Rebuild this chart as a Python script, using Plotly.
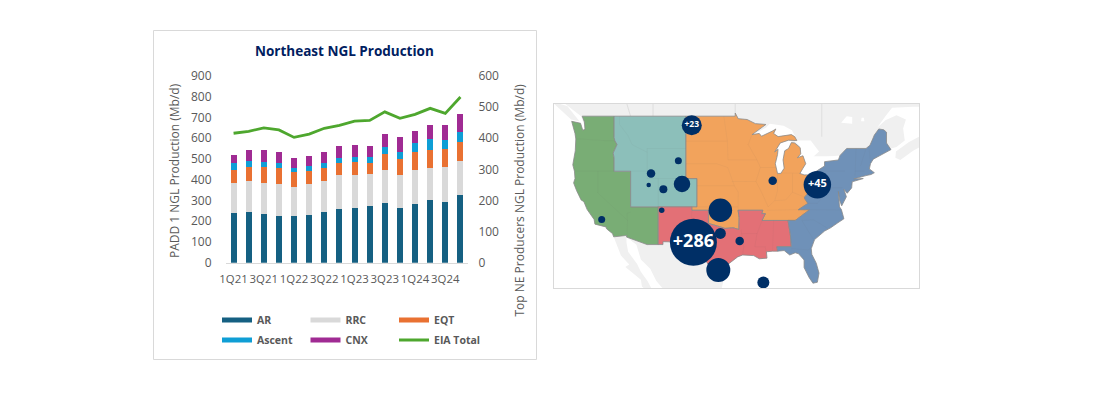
import math
import plotly.graph_objects as go

# ---- chart data ----
quarters = ["1Q21","2Q21","3Q21","4Q21","1Q22","2Q22","3Q22","4Q22",
            "1Q23","2Q23","3Q23","4Q23","1Q24","2Q24","3Q24","4Q24"]
ar =     [160,163,157,150,150,153,163,173,176,182,192,176,189,202,195,217]
rrc =    [96,99,99,103,93,99,99,109,106,103,106,106,109,103,112,109]
eqt =    [42,45,51,52,48,42,42,39,42,35,51,51,58,57,58,61]
ascent = [23,19,17,16,13,16,16,16,16,19,23,23,29,35,29,32]
cnx =    [25,35,38,35,32,32,35,39,39,35,41,48,39,45,48,58]
eia_total = [624,633,650,640,604,620,648,662,682,686,727,696,715,744,720,799]

# ---- map data (lon, lat) ----
west = [(-122.8,49),(-117.03,49),(-117.03,46.4),(-116.9,46),(-116.5,45.5),(-117.2,44.4),(-117.03,43.8),(-117.03,42),
        (-114.04,42),(-114.04,37),(-109.05,37),(-109.05,31.33),(-111.07,31.33),(-114.8,32.5),(-114.72,32.72),(-117.12,32.53),
        (-117.3,33.0),(-118.4,33.75),(-118.5,34.03),(-119.2,34.15),(-120.5,34.45),(-120.65,35.15),(-121.9,36.6),(-122.5,37.75),
        (-123.0,38.0),(-123.8,39.3),(-124.35,40.4),(-124.1,41.0),(-124.2,42.0),(-124.5,42.85),(-124.05,44.7),(-123.95,46.2),
        (-124.1,46.9),(-124.7,48.38),(-123.1,48.15),(-122.7,47.3),(-122.3,47.4),(-122.4,48.3)]
rockies = [(-117.03,49),(-104.05,49),(-104.05,41),(-102.05,41),(-102.05,37),(-109.05,37),(-114.04,37),(-114.04,42),
           (-117.03,42),(-117.03,43.8),(-117.2,44.4),(-116.5,45.5),(-116.9,46),(-117.03,46.4)]
midwest = [(-104.05,49),(-95.15,49),(-95.15,49.38),(-94.6,48.7),(-93,48.6),(-91.5,48.1),(-89.6,48.0),(-92.1,46.75),
           (-90.8,46.9),(-90.4,46.55),(-88.4,47.2),(-87.8,47.45),(-88.2,46.9),(-87.4,46.5),(-85,46.75),(-84.4,46.5),(-84,46),
           (-85.5,46.05),(-87,45.7),(-87.6,45.1),(-88,44.55),(-87.4,44.9),(-87.5,44.2),(-87.9,43),(-87.5,41.7),(-86.9,41.7),
           (-86.3,42.4),(-86.5,43.5),(-86.2,44.7),(-85.5,45),(-85,45.75),(-84.4,45.7),(-83.4,45.1),(-83.3,44.3),(-83.9,43.8),
           (-82.9,44.05),(-82.4,43),(-82.9,42.4),(-83.2,42),(-83.45,41.7),(-82.7,41.5),(-81.7,41.5),(-80.52,41.98),
           (-80.52,40.64),(-80.9,39.7),(-81.7,39.2),(-82.6,38.4),(-82.6,38.2),(-82,37.5),(-83.7,36.6),(-81.68,36.59),
           (-84.3,35),(-90.3,35),(-89.7,36),(-90.37,36),(-90.15,36.5),(-94.62,36.5),(-94.43,35.4),(-94.48,33.64),(-95.5,33.9),
           (-97,33.8),(-98,34.1),(-100,34.56),(-100,36.5),(-103,36.5),(-103,37),(-102.05,37),(-102.05,41),(-104.05,41)]
gulf = [(-109.05,37),(-103,37),(-103,36.5),(-100,36.5),(-100,34.56),(-98,34.1),(-97,33.8),(-95.5,33.9),(-94.48,33.64),
        (-94.43,35.4),(-94.62,36.5),(-90.15,36.5),(-90.37,36),(-89.7,36),(-90.3,35),(-84.3,35),(-85.6,35),(-85.18,32.9),(-85,31),
        (-87.6,31),(-87.5,30.3),(-88.4,30.3),(-89.5,30.2),(-89.4,29.2),(-90.8,29.1),(-91.8,29.6),(-93.8,29.7),(-94.7,29.4),
        (-95.9,28.6),(-97.2,27.7),(-97.4,26.8),(-97.15,25.95),(-99.1,26.4),(-99.5,27.5),(-100.7,29.1),(-101.4,29.77),
        (-102.7,29.7),(-103.15,28.98),(-104.5,29.6),(-106.5,31.75),(-108.2,31.78),(-108.2,31.33),(-109.05,31.33)]
east = [(-80.52,41.98),(-79,42.7),(-79,43.27),(-76.5,43.5),(-76.2,44.1),(-75,45),(-71.5,45),(-70.8,45.4),(-70.3,46.2),(-70,46.7),
        (-69.2,47.45),(-68.3,47.35),(-67.8,47.05),(-67.8,45.7),(-67,44.85),(-68.5,44.3),(-70.2,43.6),(-70.7,43),(-70.9,42.3),
        (-70,41.8),(-70.6,41.55),(-71.5,41.4),(-73.7,40.95),(-72,41.0),(-74,40.55),(-74.1,39.7),(-74.9,38.95),(-75.5,39.5),
        (-75.05,38.45),(-75.9,37.15),(-76.3,38),(-76.5,39.2),(-76.3,37),(-75.95,36.6),(-75.5,35.25),(-76.6,34.65),(-77.9,33.9),
        (-79,33.4),(-80.8,32.1),(-81.4,30.7),(-81.3,29.8),(-80.5,28.4),(-80,26.8),(-80.3,25.3),(-81.1,25.15),(-81.8,26.1),
        (-82.7,27.7),(-82.7,28.9),(-83.7,29.9),(-84.3,30.05),(-85.3,29.7),(-86.3,30.4),(-87.5,30.3),(-87.6,31),(-85,31),
        (-85.18,32.9),(-85.6,35),(-84.3,35),(-81.68,36.59),(-83.7,36.6),(-82,37.5),(-82.6,38.2),(-82.6,38.4),(-81.7,39.2),
        (-80.9,39.7),(-80.52,40.64)]
canada = [(-127,51),(-125,50.0),(-123,49),(-122,47),(-90,44),(-72,44),(-67,45),(-66,45.2),(-64.5,46),(-64.8,47.5),(-64.3,48.6),
          (-66,49.1),(-68,48.5),(-69.5,47.6),(-68,49),(-66.8,50),(-63,50.1),(-60,50.1),(-60,52)]
vancouver_island = [(-128.3,50.7),(-125.5,50.2),(-123.3,48.4),(-124.8,48.6)]
nova_scotia = [(-66.2,43.8),(-65.3,43.5),(-63,44.7),(-61.5,45.3),(-61.5,46.6),(-60.5,47),(-63.8,45.8),(-64.5,45.4),(-66.1,44.6)]
mexico = [(-114.8,32.5),(-113,31.3),(-112.2,29),(-110.5,27.5),(-109.4,25.5),(-107.5,23.5),(-97.8,23.5),(-97.15,25.95),(-100,31),(-110,33)]
baja = [(-117.12,32.53),(-116.3,30.5),(-115.8,29.6),(-114.3,28.2),(-115,27.8),(-113.5,26.7),(-112.2,25.7),(-112,24.6),(-110,23),
        (-109.5,23.2),(-110.3,24.3),(-111,25.5),(-112.2,27),(-112.9,28.3),(-114.5,30.2),(-114.8,31.7),(-114.8,32.5)]
lakes = [
    [(-92.1,46.7),(-89.6,47.6),(-88.9,48.1),(-86.4,47.85),(-84.9,47.3),(-84.3,46.5),(-87,46.3),(-90,46.4)],
    [(-88,44.5),(-87.5,41.6),(-86.5,41.7),(-86,44.5),(-84.8,45.8),(-85.5,46.1),(-87.2,45.6)],
    [(-84.5,46),(-81.5,46),(-80,44.6),(-81.7,43.5),(-82.4,43),(-83.5,43.5),(-83.5,45.3)],
    [(-83.4,41.7),(-83.1,42.1),(-82,42.55),(-80.5,42.7),(-79,42.9),(-78.9,42.7),(-80.5,41.9),(-82,41.3)],
    [(-79.7,43.3),(-79,43.9),(-76.3,44.1),(-76.2,43.4),(-79,43.2)],
    [(-76,48.2),(-74,48.1),(-74,48.9),(-75,49)],
    [(-72.4,48.4),(-71.8,48.4),(-71.9,48.8),(-72.3,48.8)],
]
state_lines = [
    [(-124,46.2),(-123,46.2),(-119,46),(-116.9,46)],[(-124.2,42),(-117.03,42)],[(-120,42),(-120,39),(-114.6,35),(-114.7,32.7)],
    [(-114.04,36.2),(-114.7,36.1),(-114.6,35)],[(-111.05,45),(-104.05,45)],
    [(-116.05,49),(-116.05,48),(-114.5,46.6),(-113.8,45.5),(-111.05,44.5)],[(-111.05,45),(-111.05,41),(-109.05,41)],
    [(-109.05,41),(-104.05,41)],[(-109.05,41),(-109.05,37)],[(-114.04,42),(-111.05,42)],
    [(-104.05,45.94),(-96.56,45.94)],[(-104.05,43),(-98.5,43),(-96.5,42.5)],[(-102.05,40),(-95.3,40)],[(-102,37),(-94.62,37)],
    [(-97.2,49),(-96.56,45.9),(-96.45,43.5)],[(-96.45,43.5),(-91.2,43.5)],[(-95.77,40.58),(-91.4,40.6)],
    [(-96.5,42.5),(-95.3,40),(-94.6,39.1),(-94.62,36.5)],[(-92.1,46.75),(-92.8,45.5),(-91.2,43.5),(-90.6,42.5),(-91.4,40.6),(-90.2,38.8),(-89.2,37)],
    [(-90.6,42.5),(-87.8,42.5)],[(-87.5,41.7),(-87.5,39.3),(-88,37.9)],[(-84.8,41.7),(-84.8,39.1)],[(-87,41.76),(-83.45,41.73)],
    [(-89.2,37),(-88,37.9),(-86,38),(-84.8,39.1),(-82.6,38.4)],[(-89.4,36.5),(-83.7,36.6)],
    [(-103,36.5),(-103.05,32),(-106.6,32)],[(-94,33),(-91.2,33)],[(-94.05,33.6),(-94,33),(-93.6,31),(-93.8,29.7)],
    [(-90.3,35),(-91.2,33),(-91.6,31),(-89.7,31),(-89.6,30.2)],[(-88.2,35),(-88.4,30.3)],
    [(-79.76,42),(-75.3,42)],[(-80.52,39.72),(-75.8,39.72)],[(-81.68,36.59),(-75.9,36.55)],[(-83.1,35),(-81,35.1),(-78.6,33.9)],
    [(-83.1,35),(-81,32.1)],[(-85,30.7),(-82,30.5),(-81.5,30.7)],[(-73.3,45),(-73.5,41.3)],[(-71.5,45),(-72.5,42.7)],
    [(-73.5,42),(-71.8,42)],[(-71,45.3),(-70.7,43.1)],[(-82,37.5),(-80.3,37.5),(-78.3,39.4)],
]
province_lines = [[(-114.06,49),(-114.8,50.6)],[(-110,49),(-110,50.6)],[(-95.15,49.4),(-95.15,50.6)],[(-79.5,46.5),(-79.5,50.6)]]
bubble_lon = [-102.7,-98.2,-90.06,-97.83,-97.83,-94.34,-88.37,-104.76,-108.13,-110.78,-110.36,-105.42,-108.43,-119.28,-103.0,-80.3]
bubble_lat = [31.7,27.3,25.25,36.5,33.05,31.9,40.7,40.25,39.5,40.1,41.7,43.4,36.5,35.15,47.9,40.15]
bubble_size = [47,24,12,23.5,11,8.5,8.5,16.5,8,4.5,8.5,7,5.5,7,20,27.5]
bubble_label = ["+286","","","","","","","","","","","","","","+23","+45"]


def merc(lat):
    return math.degrees(math.log(math.tan(math.radians(45 + lat / 2))))


def xy(poly, close=True):
    pts = poly + poly[:1] if close else poly
    return [p[0] for p in pts], [merc(p[1]) for p in pts]


def lines_xy(lines):
    xs, ys = [], []
    for ln in lines:
        a, b = xy(ln, close=False)
        xs += a + [None]
        ys += b + [None]
    return xs, ys


# page has an 8px body margin, so the figure fills 1079x399 inside it
W, H, OFF = 1079, 399, 8
def px(x): return (x - OFF) / W
def py(y): return 1 - (y - OFF) / H

TICK = "#595959"
FONT = "Open Sans"
fig = go.Figure()

# ---- stacked bars, right axis ----
for name, vals, col in [("AR", ar, "#156082"), ("RRC", rrc, "#D9D9D9"), ("EQT", eqt, "#E97132"),
                        ("Ascent", ascent, "#0F9ED5"), ("CNX", cnx, "#A02B93")]:
    fig.add_trace(go.Bar(x=quarters, y=vals, name=name, marker_color=col, marker_line_width=0,
                         yaxis="y2", xaxis="x", width=0.4, showlegend=False, hovertemplate="%{x}: %{y}<extra>"+name+"</extra>"))
# legend swatches for the bars
for name, col, lg in [("AR", "#156082", "legend"), ("RRC", "#D9D9D9", "legend"), ("EQT", "#E97132", "legend"),
                      ("Ascent", "#0F9ED5", "legend2"), ("CNX", "#A02B93", "legend2")]:
    fig.add_trace(go.Scatter(x=[None], y=[None], name=name, mode="lines", line=dict(color=col, width=5),
                             legend=lg, xaxis="x", yaxis="y", hoverinfo="skip"))
fig.add_trace(go.Scatter(x=quarters, y=eia_total, name="EIA Total", mode="lines", xaxis="x", yaxis="y",
                         line=dict(color="#4EA72E", width=2.8), legend="legend2"))

# ---- map ----
LAND = "#F0F0F0"
for poly in [canada, vancouver_island, nova_scotia, mexico, baja]:
    x, y = xy(poly)
    fig.add_trace(go.Scatter(x=x, y=y, fill="toself", fillcolor=LAND, mode="lines", line=dict(width=0, color=LAND),
                             xaxis="x3", yaxis="y3", showlegend=False, hoverinfo="skip"))
for poly in lakes:
    x, y = xy(poly)
    fig.add_trace(go.Scatter(x=x, y=y, fill="toself", fillcolor="white", mode="lines", line=dict(width=0, color="white"),
                             xaxis="x3", yaxis="y3", showlegend=False, hoverinfo="skip"))
x, y = lines_xy(province_lines)
fig.add_trace(go.Scatter(x=x, y=y, mode="lines", line=dict(width=0.7, color="#D6D6D6"), xaxis="x3", yaxis="y3",
                         showlegend=False, hoverinfo="skip"))
for name, poly, col in [("PADD 5", west, "#79AD75"), ("PADD 4", rockies, "#8CBFBA"), ("PADD 2", midwest, "#F2A35C"),
                        ("PADD 3", gulf, "#E37076"), ("PADD 1", east, "#6F91B8")]:
    x, y = xy(poly)
    fig.add_trace(go.Scatter(x=x, y=y, fill="toself", fillcolor=col, mode="lines", name=name,
                             line=dict(width=0.8, color="#8A8A8A"), xaxis="x3", yaxis="y3", showlegend=False, hoverinfo="name"))
x, y = lines_xy(state_lines)
fig.add_trace(go.Scatter(x=x, y=y, mode="lines", line=dict(width=0.5, color="rgba(90,90,90,0.10)"), xaxis="x3", yaxis="y3",
                         showlegend=False, hoverinfo="skip"))
fig.add_trace(go.Scatter(x=bubble_lon, y=[merc(v) for v in bubble_lat], mode="markers+text", text=bubble_label,
                         textposition="middle center", xaxis="x3", yaxis="y3", showlegend=False,
                         textfont=dict(color="white", family=FONT, size=[18 if t == "+286" else 11 if t == "+45" else 8.5 for t in bubble_label], weight="bold"),
                         marker=dict(color="#002F66", size=bubble_size, line_width=0, opacity=1), hoverinfo="skip"))

tf = dict(family=FONT, size=12, color=TICK)
legend_common = dict(orientation="h", xanchor="left", yanchor="middle", entrywidth=43.5, entrywidthmode="pixels",
                     font=dict(family=FONT, size=10.5, color=TICK, weight="bold"), bgcolor="rgba(0,0,0,0)",
                     itemclick=False, itemdoubleclick=False, traceorder="normal")
center = dict(xref="paper", yref="paper", showarrow=False, xanchor="center", yanchor="middle")
fig.update_layout(
    width=W, height=H, margin=dict(l=0, r=0, t=0, b=0, autoexpand=False), paper_bgcolor="white", plot_bgcolor="rgba(0,0,0,0)",
    barmode="stack", hovermode="closest",
    xaxis=dict(domain=[px(226), px(468)], anchor="y", type="category", categoryorder="array", categoryarray=quarters,
               dtick=2, tickangle=0, tickfont=dict(family=FONT, size=11.4, color=TICK), ticks="outside", ticklen=6, tickcolor="rgba(0,0,0,0)",
               showline=True, linecolor="#D9D9D9", linewidth=1, showgrid=False, zeroline=False),
    yaxis=dict(domain=[py(262.7), py(76)], range=[0, 900], dtick=100, tickfont=tf, anchor="x", ticks="outside", ticklen=11,
               tickcolor="rgba(0,0,0,0)", showgrid=False, zeroline=False),
    yaxis2=dict(domain=[py(262.7), py(76)], range=[0, 600], dtick=100, tickfont=tf, anchor="x", overlaying="y", side="right",
                ticks="outside", ticklen=7, tickcolor="rgba(0,0,0,0)", showgrid=False, zeroline=False),
    xaxis3=dict(domain=[px(553.7), px(919)], anchor="y3", range=[-127.95, -61.93], visible=True, showticklabels=False, ticks="",
                showgrid=False, zeroline=False, showline=True, mirror=True, linecolor="#D9D9D9", linewidth=1),
    yaxis3=dict(domain=[py(288.3), py(104)], anchor="x3", range=[25.07, 58.58], showticklabels=False, ticks="",
                showgrid=False, zeroline=False, showline=True, mirror=True, linecolor="#D9D9D9", linewidth=1),
    legend=dict(x=px(217), y=py(320), **legend_common),
    legend2=dict(x=px(217), y=py(340), **legend_common),
    shapes=[dict(type="rect", xref="paper", yref="paper", x0=px(153.5), x1=px(536.5), y0=py(359.5), y1=py(30.5),
                 line=dict(color="#D9D9D9", width=1), fillcolor="rgba(0,0,0,0)", layer="below")],
    annotations=[
        dict(text="<b>Northeast NGL Production</b>", x=px(344), y=py(51), font=dict(family=FONT, size=13.5, color="#002060"), **center),
        dict(text="PADD 1 NGL Production (Mb/d)", x=px(174), y=py(171), textangle=-90, font=dict(family=FONT, size=12, color=TICK), **center),
        dict(text="Top NE Producers NGL Production (Mb/d)", x=px(519), y=py(200.5), textangle=-90, font=dict(family=FONT, size=12, color=TICK), **center),
    ],
)
fig.write_html("out.html", config={"displayModeBar": False})
